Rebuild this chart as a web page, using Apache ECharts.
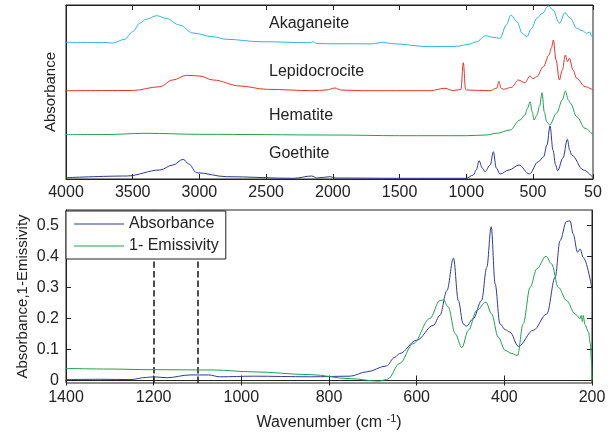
<!DOCTYPE html>
<html>
<head>
<meta charset="utf-8">
<script src="https://cdn.jsdelivr.net/npm/echarts@6/dist/echarts.min.js"></script>
<style>
  html, body { margin: 0; padding: 0; background: #fff; }
  #chart { width: 613px; height: 433px; }
</style>
</head>
<body>
<div id="chart"></div>
<script>
// top panel: stacked spectra, [wavenumber, offset absorbance (arb.)]
const akaganeite = [
  [4000, 136.7], [3700, 136.5], [3650, 135.9], [3560, 139.7], [3500, 147.3], [3445, 156],
  [3400, 159.7], [3320, 163.3], [3250, 160.7], [3150, 154], [3048, 146], [2900, 142.3],
  [2796, 139.7], [2546, 137.3], [2171, 136.3], [2150, 137.3], [2120, 135.5], [2000, 135.2],
  [1700, 135.2], [1622, 136.7], [1560, 135.3], [1272, 132.3], [1072, 132.7], [980, 134.7],
  [922, 137.3], [855, 143.3], [800, 141.7], [747, 140.7], [700, 154], [665, 164], [620, 157.3],
  [580, 145.7], [547, 142.3], [510, 150.7], [472, 160.7], [430, 165.7], [385, 173], [350, 169],
  [302, 155.7], [260, 166.3], [220, 160.7], [172, 150.7], [130, 148.3], [97, 145.7], [75, 147],
  [60, 143], [50, 140.7]
];
const lepidocrocite = [
  [4000, 88.3], [3500, 88.5], [3296, 92.3], [3200, 99], [3095, 103.7], [3000, 103], [2896, 99],
  [2696, 93], [2496, 89.7], [2148, 88.3], [2050, 89], [1984, 91], [1940, 89], [1773, 88.3],
  [1272, 88.3], [1160, 90.7], [1100, 88.5], [1040, 89.5], [1022, 116.3], [1005, 89.5], [997, 89],
  [822, 88.3], [770, 91], [755, 97.7], [740, 91], [722, 89.7], [660, 91.7], [610, 99], [560, 96.3],
  [522, 103], [500, 100.3], [472, 102.3], [422, 112.3], [380, 124], [362, 131], [347, 139],
  [327, 119], [302, 99], [280, 109], [257, 124], [242, 117.3], [227, 120.7], [200, 109],
  [172, 100.7], [110, 92.3], [50, 89]
];
const hematite = [
  [4000, 44.3], [3700, 44.5], [3400, 45.7], [3000, 44.7], [2000, 44], [1500, 43.3], [1000, 43.3],
  [850, 44], [772, 45.7], [672, 49], [597, 59], [560, 64], [540, 71], [522, 77.3], [505, 67],
  [492, 59], [470, 64], [450, 73], [432, 86.3], [415, 67], [397, 57.3], [375, 54], [322, 66],
  [280, 79], [257, 88], [235, 79], [220, 76], [172, 62.3], [110, 50.7], [50, 44]
];
const goethite = [
  [4000, 1.3], [3545, 3], [3296, 9], [3200, 14], [3121, 19.7], [3080, 15], [3021, 6.3],
  [2796, 2.3], [2296, 0.7], [2158, 3], [2120, 1], [2021, 2.3], [1980, 1], [1500, 0.7], [1000, 0.7],
  [947, 4], [925, 9], [904, 18.3], [880, 11], [860, 7.3], [820, 14], [797, 27.3], [775, 11],
  [747, 5], [680, 9], [605, 14], [527, 5], [460, 17.3], [420, 22.3], [395, 34], [372, 53],
  [350, 29], [330, 14], [315, 8.3], [275, 21], [242, 39.7], [225, 29], [210, 24], [122, 9], [50, 1.3]
];
const mineralNames = ['Akaganeite', 'Lepidocrocite', 'Hematite', 'Goethite'];
const topTicks = [4000, 3500, 3000, 2500, 2000, 1500, 1000, 500, 50];

// bottom panel
const absorbance = [
  [1400, 0.003], [1322, 0.004], [1254, 0.003], [1216, 0.01], [1201, 0.012], [1170, 0.009],
  [1117, 0.018], [1075, 0.018], [1049, 0.012], [973, 0.014], [843, 0.012], [752, 0.014],
  [714, 0.028], [669, 0.047], [650, 0.075], [639, 0.087], [600, 0.13], [562, 0.178], [547, 0.21],
  [531, 0.29], [516, 0.395], [505, 0.258], [494, 0.183], [487, 0.175], [471, 0.199], [452, 0.258],
  [440, 0.365], [430, 0.496], [421, 0.312], [410, 0.183], [398, 0.164], [387, 0.156], [368, 0.11],
  [334, 0.162], [303, 0.215], [284, 0.333], [273, 0.451], [258, 0.513], [250, 0.515], [243, 0.473],
  [233, 0.414], [227, 0.424], [220, 0.397], [200, 0.296]
];
const emissivity = [
  [1400, 0.039], [1300, 0.037], [1208, 0.035], [1064, 0.034], [973, 0.028], [843, 0.019],
  [752, 0.006], [687, -0.002], [668, 0.003], [665, 0.006], [639, 0.055], [608, 0.119], [570, 0.2],
  [547, 0.258], [539, 0.26], [528, 0.237], [512, 0.151], [497, 0.106], [482, 0.162], [463, 0.226],
  [442, 0.253], [429, 0.215], [414, 0.14], [398, 0.097], [383, 0.087], [370, 0.081], [357, 0.183],
  [341, 0.301], [326, 0.36], [305, 0.401], [292, 0.376], [277, 0.301], [258, 0.258], [239, 0.215],
  [227, 0.2], [225, 0.21], [222, 0.19], [220, 0.21], [216, 0.18], [208, 0.156], [204, 0.12],
  [201, 0.06], [200, 0]
];
const bottomYTicks = [0, 0.1, 0.2, 0.3, 0.4, 0.5];
const markedWavenumbers = [1200, 1100];

const FONT = 'Liberation Sans, Arial, sans-serif';
const INK = '#222';
const FS = 16;

const chart = echarts.init(document.getElementById('chart'));

const frameAxis = { show: true, lineStyle: { color: INK, width: 1 } };
const inTick = (vals) => ({ show: true, inside: true, length: 5, lineStyle: { color: INK }, customValues: vals });
const plain = (v) => String(v);

const line = (name, data, color, xi, yi) => ({
  name, type: 'line', data, xAxisIndex: xi, yAxisIndex: yi,
  symbol: 'none', smooth: 0.35, smoothMonotone: 'x',
  lineStyle: { color, width: 1 }, itemStyle: { color },
  animation: false
});

const option = {
  animation: false,
  textStyle: { fontFamily: FONT },
  grid: [
    { left: 66, top: 5, width: 527, height: 174, show: true, borderColor: INK, borderWidth: 1 },
    { left: 66, top: 210, width: 526, height: 173, show: true, borderColor: INK, borderWidth: 1 }
  ],
  xAxis: [
    {
      gridIndex: 0, type: 'value', inverse: true, min: 50, max: 4000,
      axisLine: frameAxis, axisTick: inTick(topTicks), splitLine: { show: false },
      axisLabel: { customValues: topTicks, formatter: plain, color: INK, fontSize: FS, margin: 6, fontFamily: FONT }
    },
    {
      gridIndex: 0, type: 'value', inverse: true, min: 50, max: 4000, position: 'top',
      axisLine: frameAxis, axisTick: inTick(topTicks), splitLine: { show: false },
      axisLabel: { show: false }
    },
    {
      gridIndex: 1, type: 'value', inverse: true, min: 200, max: 1400, interval: 200,
      axisLine: frameAxis, axisTick: { show: true, inside: true, length: 5, lineStyle: { color: INK } },
      splitLine: { show: false },
      axisLabel: { formatter: plain, color: INK, fontSize: FS, margin: 7, fontFamily: FONT },
      name: 'Wavenumber (cm {sup|-1})', nameLocation: 'middle', nameGap: 30,
      nameTextStyle: {
        color: INK, fontSize: FS, fontFamily: FONT,
        rich: { sup: { fontSize: 11, color: INK, fontFamily: FONT, padding: [0, 0, 9, 0] } }
      }
    },
    {
      gridIndex: 1, type: 'value', inverse: true, min: 200, max: 1400, interval: 200, position: 'top',
      axisLine: frameAxis, axisTick: { show: true, inside: true, length: 5, lineStyle: { color: INK } },
      splitLine: { show: false }, axisLabel: { show: false }
    }
  ],
  yAxis: [
    {
      gridIndex: 0, type: 'value', min: 0, max: 174,
      axisLine: frameAxis, axisTick: { show: false }, axisLabel: { show: false },
      splitLine: { show: false },
      name: 'Absorbance', nameLocation: 'middle', nameGap: 8,
      nameTextStyle: { color: INK, fontSize: 15, fontFamily: FONT }
    },
    {
      gridIndex: 1, type: 'value', min: -0.008, max: 0.55,
      axisLine: frameAxis, axisTick: inTick(bottomYTicks), splitLine: { show: false },
      axisLabel: { customValues: bottomYTicks, color: INK, fontSize: FS, margin: 7, fontFamily: FONT },
      name: 'Absorbance,1-Emissivity', nameLocation: 'middle', nameGap: 36, nameMoveOverlap: false,
      nameTextStyle: { color: INK, fontSize: 15, fontFamily: FONT }
    },
    {
      gridIndex: 1, type: 'value', min: -0.008, max: 0.55, position: 'right',
      axisLine: frameAxis, axisTick: inTick(bottomYTicks), splitLine: { show: false },
      axisLabel: { show: false }
    }
  ],
  legend: {
    z: 10,
    data: ['Absorbance', '1- Emissivity'],
    orient: 'vertical', left: 66, top: 211,
    icon: 'rect', itemWidth: 50, itemHeight: 1,
    backgroundColor: '#fff', borderColor: INK, borderWidth: 1, borderRadius: 0,
    padding: [5, 7, 5, 8], itemGap: 6,
    textStyle: { color: INK, fontSize: FS, fontFamily: FONT }
  },
  graphic: mineralNames.map((t, i) => ({
    type: 'text', left: 269, top: [16, 64, 108, 146][i], silent: true,
    style: { text: t, fill: INK, font: '16px ' + FONT }
  })),
  series: [
    line('Akaganeite', akaganeite, '#2bb5e0', 0, 0),
    line('Lepidocrocite', lepidocrocite, '#e8322b', 0, 0),
    line('Hematite', hematite, '#1fa050', 0, 0),
    line('Goethite', goethite, '#2e3796', 0, 0),
    Object.assign(line('Absorbance', absorbance, '#2e3a9a', 2, 1), {
      markLine: {
        z: 1, silent: true, symbol: 'none', label: { show: false },
        lineStyle: { type: 'dashed', color: INK, width: 1.6 },
        data: markedWavenumbers.map((w) => ({ xAxis: w }))
      }
    }),
    line('1- Emissivity', emissivity, '#1fa050', 2, 1)
  ]
};

chart.setOption(option);
</script>
</body>
</html>
